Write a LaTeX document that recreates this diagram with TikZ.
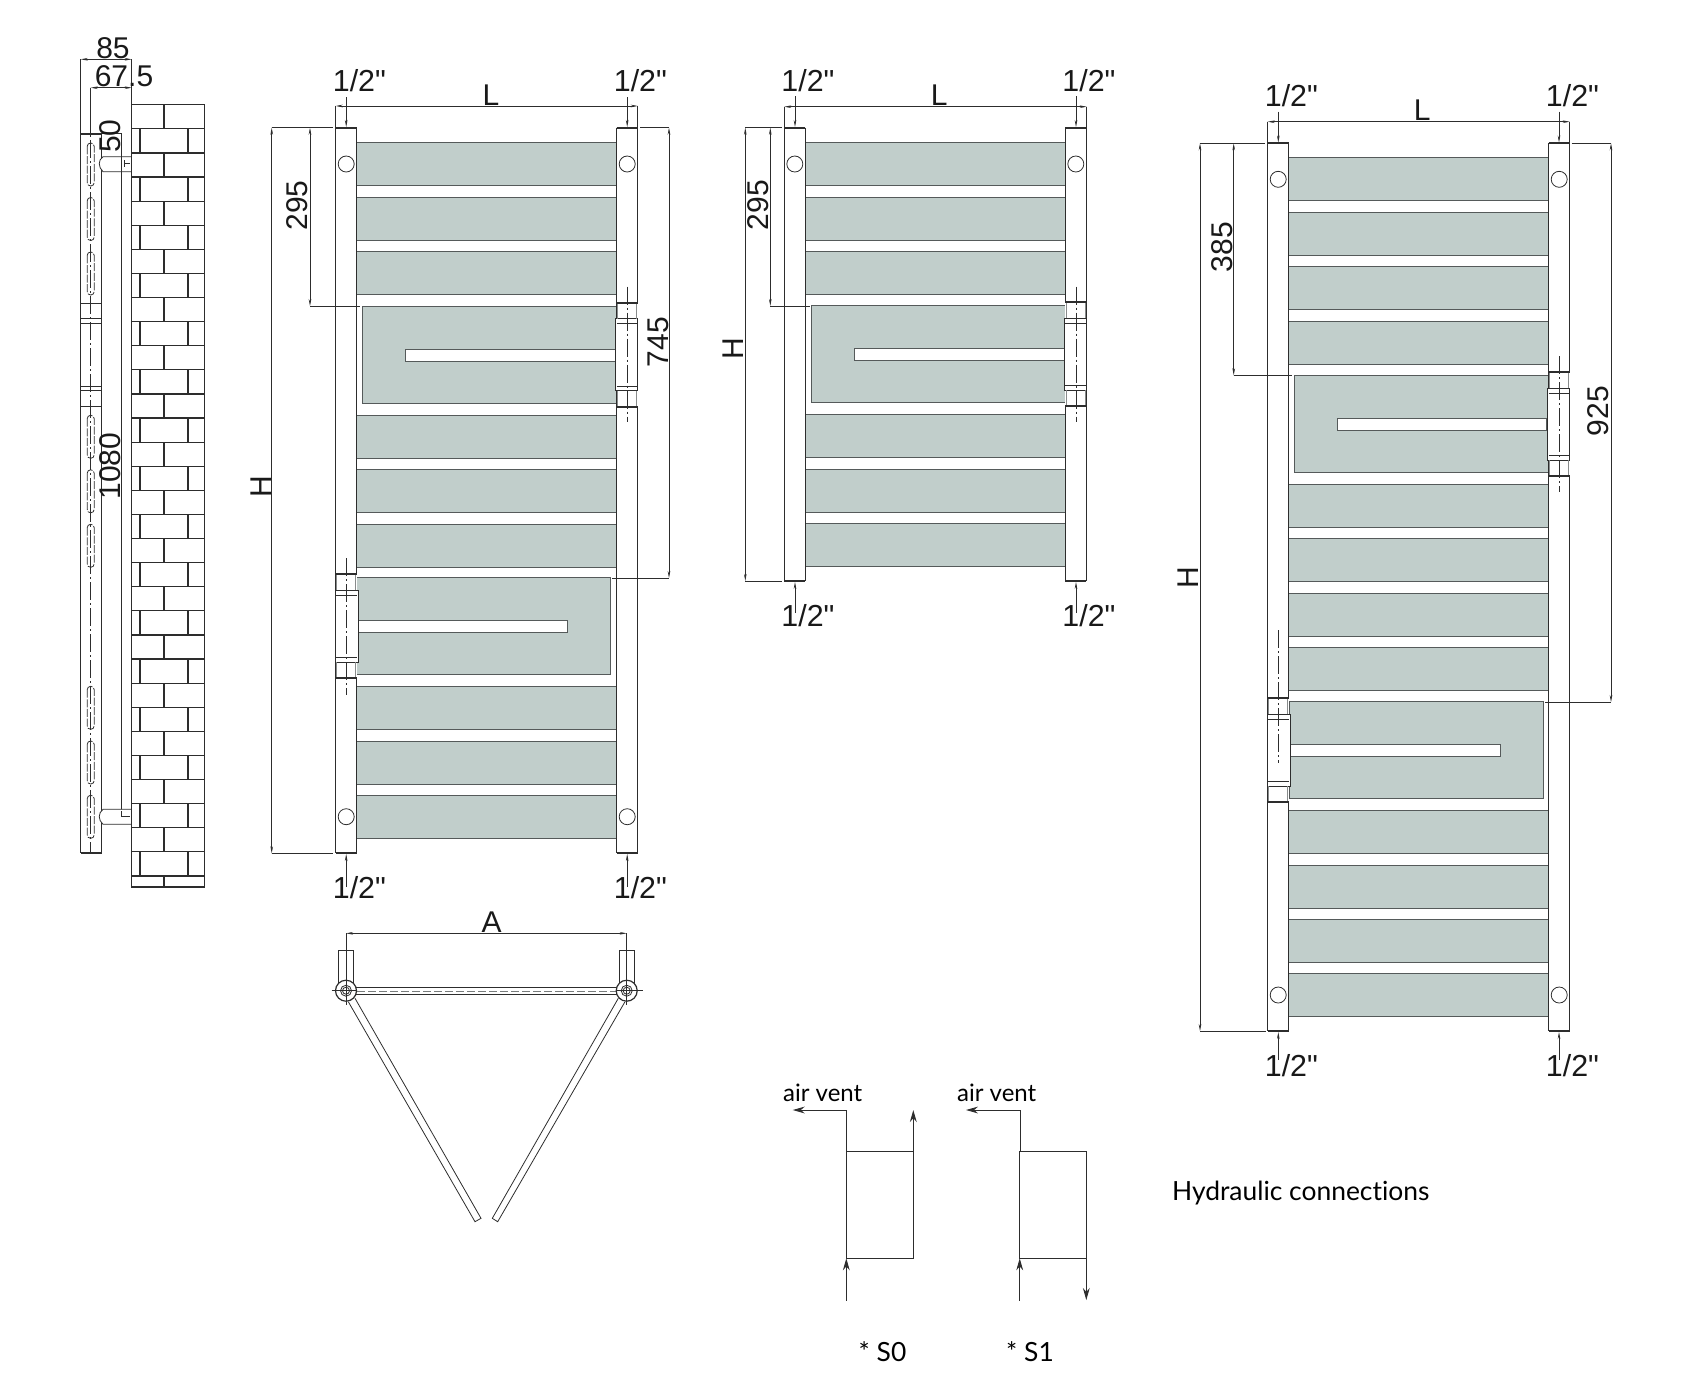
\documentclass[tikz,border=0pt]{standalone}
\usepackage{fontspec}
\setmainfont[Ligatures=TeXOff]{Liberation Sans}
\newfontfamily\notefont[Ligatures={TeXOff,NoCommon}]{Lato}
\usetikzlibrary{arrows.meta}
\definecolor{panelgrey}{RGB}{193, 206, 203}
\definecolor{ink}{RGB}{45, 45, 45}
\definecolor{panelline}{RGB}{85, 90, 90}
\tikzset{
  thinline/.style={draw=ink, line width=0.4pt},
  barline/.style={draw=ink, line width=0.6pt},
  capline/.style={draw=ink, line width=1pt},
  edgeline/.style={draw=panelline, line width=0.5pt},
  collarline/.style={draw=panelline!70, line width=0.35pt},
  centerline/.style={draw=ink, line width=0.4pt, dash pattern=on 9pt off 1.5pt on 1pt off 1.5pt},
  dimline/.style={draw=ink, line width=0.35pt, {Stealth[length=3.5pt,width=1.3pt]}-{Stealth[length=3.5pt,width=1.3pt]}},
  pipetip/.style={draw=ink, line width=0.35pt, -{Stealth[length=3.5pt,width=1.3pt]}},
  flowtip/.style={draw=ink, line width=0.5pt, -{Stealth[length=6pt,width=3.4pt]}},
  dimtext/.style={inner sep=0pt, text=black!90, font=\fontsize{15}{15}\selectfont},
  pipetext/.style={inner sep=0pt, anchor=base, text=black!90, font=\fontsize{15.2}{15}\selectfont},
  notetext/.style={inner sep=0pt, anchor=base, text=black, font=\notefont\fontsize{13.2}{15}\selectfont},
  venttext/.style={inner sep=0pt, anchor=base, text=black, font=\notefont\fontsize{12}{15}\selectfont}
}
% straight panels between the two bars of one radiator
\newcommand{\rungs}[2]{
  \foreach \yy in {#2} {
    \fill[panelgrey] (#1+21,\yy) rectangle (#1+281,\yy+43);
    \draw[edgeline] (#1+21,\yy) -- (#1+281,\yy) (#1+21,\yy+43) -- (#1+281,\yy+43);
  }
}
% panel with the long slot: x from, x to, y, slot x from, slot x to
\newcommand{\slotted}[5]{
  \fill[panelgrey] (#1,#3) rectangle (#2,#3+97);
  \draw[edgeline] (#1,#3) rectangle (#2,#3+97);
  \fill[white] (#4,#3+43) rectangle (#5,#3+55);
  \draw[edgeline] (#4,#3+43) rectangle (#5,#3+55);
}
% the two bars, with plugs: x, y top, y bottom, y top plug, y bottom plug
\newcommand{\bars}[5]{
  \foreach \xx in {#1, #1+281} {
    \draw[barline] (\xx,#2) -- (\xx,#3) (\xx+21,#2) -- (\xx+21,#3);
    \draw[capline] (\xx,#2) -- (\xx+21,#2) (\xx,#3) -- (\xx+21,#3);
    \draw[thinline] (\xx+10.5,#4) circle (8) (\xx+10.5,#5) circle (8);
  }
}
% swivel joint: bar x, y top, block x from, block x to
\newcommand{\joint}[4]{
  \fill[white] (#1,#2) rectangle (#1+21,#2+104);
  \draw[thinline, fill=white] (#3,#2+16) rectangle (#4,#2+88);
  \draw[collarline] (#1+1,#2) -- (#1+1,#2+16) (#1+20,#2) -- (#1+20,#2+16)
    (#1+1,#2+88) -- (#1+1,#2+104) (#1+20,#2+88) -- (#1+20,#2+104);
  \draw[thinline] (#1,#2+21) -- (#1+21,#2+21) (#1,#2+83.5) -- (#1+21,#2+83.5);
  \draw[capline] (#1,#2) -- (#1+21,#2) (#1,#2+104) -- (#1+21,#2+104);
}
\begin{document}
\begin{tikzpicture}[x=0.5pt, y=-0.5pt]

  \useasboundingbox (0, 0) rectangle (1684, 1387);

  % side view
  \foreach \yy in {143, 197.5, 252, 415.3, 469.8, 524.3, 686.3, 741, 795.3} {
    \draw[thinline, dash pattern=on 4pt off 0.8pt, rounded corners=1.7pt] (87.2,\yy) rectangle (94.2,\yy+43);
  }
  \draw[barline] (80.7,134) -- (80.7,853) (101.7,134) -- (101.7,853) (121.7,133) -- (121.7,811);
  \draw[capline] (80.7,134) -- (101.7,134);
  \draw[barline] (80.7,853) -- (101.7,853);
  \foreach \yy in {303, 318, 323, 386, 390, 406} {
    \draw[thinline] (80.7,\yy) -- (101.7,\yy);
  }
  \draw[centerline] (90.7,88) -- (90.7,853);
  \draw[thinline, fill=white] (131.7,156.7) -- (103,156.7) .. controls (98,160) and (98,167) .. (103,171.7) -- (131.7,171.7);
  \draw[thinline, fill=white] (131.7,809.3) -- (103,809.3) .. controls (98,813) and (98,820) .. (103,824.3) -- (131.7,824.3);
  \draw[barline] (121.7,133) -- (121.7,171.7);
  \draw[thinline] (124,163.5) -- (130,163.5) (124,160) -- (124,167);
  \draw[thinline] (121,811) -- (121,816.7) -- (130,816.7);

  % wall
  \draw[barline] (131.7,104.7) rectangle (204.3,887);
  \foreach \k in {0, ..., 32} {
    \pgfmathsetmacro{\yt}{104.7+24.1*\k}
    \pgfmathsetmacro{\yb}{min(104.7+24.1*(\k+1),887)}
    \draw[barline] (131.7,\yt) -- (204.3,\yt);
    \ifodd\k
      \draw[barline] (140,\yt) -- (140,\yb) (188,\yt) -- (188,\yb);
    \else
      \draw[barline] (164,\yt) -- (164,\yb);
    \fi
  }

  % side view dimensions
  \draw[thinline] (80.7,59.3) -- (80.7,134) (131.7,59.3) -- (131.7,104.7) (90.7,87.7) -- (90.7,134) (102,133) -- (121.7,133);
  \draw[dimline] (80.7,59.3) -- (131.7,59.3);
  \draw[dimline] (90.7,87.7) -- (131.7,87.7);
  \node[dimtext] (dimA) at (113, 48) {85};
  \node[dimtext] (dimB) at (124, 76) {67.5};
  \node[dimtext, rotate=90] (dimC) at (110, 136) {50};
  \node[dimtext, rotate=90] (dimD) at (110, 466) {1080};

  % first radiator
  \rungs{335.7}{142.3, 197, 251.5, 415.3, 469.8, 524.3, 686.3, 741, 795.3}
  \slotted{362.3}{616.7}{306}{405.3}{615.4}
  \slotted{356.7}{610.7}{577.7}{358.3}{567.7}
  \bars{335.7}{127.7}{853.3}{164}{816.7}
  \joint{616.7}{302.5}{615.4}{637.7}
  \joint{335.7}{574.3}{335.7}{358.3}
  \draw[centerline] (627.2,286.7) -- (627.2,422.3) (346.2,558) -- (346.2,695);
  \draw[thinline] (271.7,127.7) -- (333,127.7) (271.7,853.3) -- (333,853.3) (310,306) -- (360,306);
  \draw[thinline] (640,127.7) -- (669,127.7) (612,578) -- (669,578);
  \draw[thinline] (335.7,106) -- (335.7,127.7) (637.7,106) -- (637.7,127.7);
  \draw[dimline] (335.7,106) -- (637.7,106);
  \draw[dimline] (271.7,127.7) -- (271.7,853.3);
  \draw[dimline] (310,127.7) -- (310,306);
  \draw[dimline] (669,127.7) -- (669,578);
  \node[dimtext, anchor=base] (firstL) at (491, 105) {L};
  \node[dimtext, rotate=90] (firstH) at (261, 487) {H};
  \node[dimtext, rotate=90] (firstTop) at (297, 205.5) {295};
  \node[dimtext, rotate=90] (firstSpan) at (658.5, 342) {745};
  \node[pipetext] (firstNW) at (359.4, 91.7) {1/2"};
  \node[pipetext] (firstNE) at (640.4, 91.7) {1/2"};
  \node[pipetext] (firstSW) at (359.4, 898) {1/2"};
  \node[pipetext] (firstSE) at (640.4, 898) {1/2"};
  \draw[pipetip] (346.2,97) -- (346.2,127);
  \draw[pipetip] (627.2,97) -- (627.2,127);
  \draw[pipetip] (346.2,887) -- (346.2,854);
  \draw[pipetip] (627.2,887) -- (627.2,854);

  % second radiator
  \rungs{784.3}{142.3, 197, 251.5, 414.3, 469, 523.3}
  \slotted{811.3}{1065.3}{305.7}{854.3}{1064}
  \bars{784.3}{127.7}{581}{164}{164}
  \joint{1065.3}{302.3}{1064}{1086.7}
  \draw[centerline] (1076,286.7) -- (1076,422.3);
  \draw[thinline] (745.3,127.7) -- (782,127.7) (745.3,581) -- (782,581) (770.3,306) -- (810,306);
  \draw[thinline] (784.3,106.7) -- (784.3,127.7) (1086.7,106.7) -- (1086.7,127.7);
  \draw[dimline] (784.3,106.7) -- (1086.7,106.7);
  \draw[dimline] (745.3,127.7) -- (745.3,581);
  \draw[dimline] (770.3,127.7) -- (770.3,306);
  \node[dimtext, anchor=base] (secondL) at (939.3, 105) {L};
  \node[dimtext, rotate=90] (secondH) at (733, 349) {H};
  \node[dimtext, rotate=90] (secondTop) at (757.7, 205) {295};
  \node[pipetext] (secondNW) at (808, 91.7) {1/2"};
  \node[pipetext] (secondNE) at (1089, 91.7) {1/2"};
  \node[pipetext] (secondSW) at (808, 626.7) {1/2"};
  \node[pipetext] (secondSE) at (1089, 626.7) {1/2"};
  \draw[pipetip] (795,96) -- (795,127);
  \draw[pipetip] (1076,96) -- (1076,127);
  \draw[pipetip] (795,613) -- (795,582);
  \draw[pipetip] (1076,613) -- (1076,582);

  % third radiator
  \rungs{1267.7}{157.7, 212.3, 266.7, 321.2, 484.3, 538.8, 593.3, 647.6, 810.3, 865, 919.3, 973.5}
  \slotted{1294.7}{1548.7}{375.3}{1337.3}{1546.7}
  \slotted{1289}{1543.3}{701.3}{1290.3}{1500.3}
  \bars{1267.7}{143.3}{1031}{179.3}{995}
  \joint{1548.7}{372}{1547.4}{1569.7}
  \joint{1267.7}{698.3}{1267.7}{1290.3}
  \draw[centerline] (1559,356) -- (1559,492) (1278.3,630) -- (1278.3,763);
  \draw[thinline] (1200,143.3) -- (1265,143.3) (1200,1031) -- (1266,1031) (1233.7,375.3) -- (1292,375.3);
  \draw[thinline] (1571.7,143.3) -- (1611,143.3) (1545,702) -- (1611,702);
  \draw[thinline] (1267.7,121.7) -- (1267.7,143.3) (1569.7,121.7) -- (1569.7,143.3);
  \draw[dimline] (1267.7,121.7) -- (1569.7,121.7);
  \draw[dimline] (1200,143.3) -- (1200,1031);
  \draw[dimline] (1233.7,143.3) -- (1233.7,375.3);
  \draw[dimline] (1611,143.3) -- (1611,702);
  \node[dimtext, anchor=base] (thirdL) at (1422.3, 120.7) {L};
  \node[dimtext, rotate=90] (thirdH) at (1188, 577.7) {H};
  \node[dimtext, rotate=90] (thirdTop) at (1221.7, 247.3) {385};
  \node[dimtext, rotate=90] (thirdSpan) at (1598.3, 411) {925};
  \node[pipetext] (thirdNW) at (1291.4, 106.7) {1/2"};
  \node[pipetext] (thirdNE) at (1572.4, 106.7) {1/2"};
  \node[pipetext] (thirdSW) at (1291.4, 1076.7) {1/2"};
  \node[pipetext] (thirdSE) at (1572.4, 1076.7) {1/2"};
  \draw[pipetip] (1278.3,111.7) -- (1278.3,142.5);
  \draw[pipetip] (1559,111.7) -- (1559,142.5);
  \draw[pipetip] (1278.3,1060) -- (1278.3,1032);
  \draw[pipetip] (1559,1060) -- (1559,1032);

  % plan view
  \draw[thinline] (338.3,950) rectangle (353.7,982) (619.3,950) rectangle (634.7,982);
  \draw[dimline] (346,933.3) -- (626.7,933.3);
  \node[dimtext, anchor=base] (planA) at (491.5, 932) {A};
  \draw[thinline] (355,998.3) -- (481,1218.3) -- (475,1221.7) -- (348.3,1001.7);
  \draw[thinline] (618.3,998.3) -- (492.3,1218.3) -- (497.7,1221.7) -- (625,1001.7);
  \draw[barline] (346,987.7) -- (626.7,987.7) (346,994.3) -- (626.7,994.3);
  \draw[draw=panelline!80, line width=0.5pt, dash pattern=on 4pt off 1.5pt] (346,991) -- (626.7,991);
  \foreach \xx in {346, 626.7} {
    \draw[barline, fill=white] (\xx,990.7) circle (10.5);
    \draw[thinline] (\xx,990.7) circle (5.5) (\xx,990.7) circle (3.5);
  }
  \draw[thinline] (331.7,990.7) -- (356,990.7) (617,990.7) -- (643,990.7);
  \draw[thinline] (346,933.3) -- (346,1005) (626.7,933.3) -- (626.7,1005);

  % hydraulic connections
  \draw[thinline] (846.3,1151.3) rectangle (913.3,1258.3);
  \draw[flowtip] (846.3,1151.3) -- (846.3,1110) -- (792.7,1110);
  \draw[flowtip] (913.3,1151.3) -- (913.3,1110);
  \draw[flowtip] (846.3,1300.7) -- (846.3,1258.3);
  \draw[thinline] (1019.7,1151.3) rectangle (1086.3,1258.3);
  \draw[flowtip] (1020,1151.3) -- (1020,1110) -- (966,1110);
  \draw[flowtip] (1019.7,1300.7) -- (1019.7,1258.3);
  \draw[flowtip] (1086.3,1258.3) -- (1086.3,1300);
  \node[venttext] (ventA) at (822.7, 1101) {air vent};
  \node[venttext] (ventB) at (996.7, 1101) {air vent};
  \node[notetext] (typeA) at (882.5, 1361.7) {* S0};
  \node[notetext] (typeB) at (1030, 1361.7) {* S1};
  \node[notetext, anchor=base west] (caption) at (1171.7, 1200) {Hydraulic connections};

\end{tikzpicture}
\end{document}
